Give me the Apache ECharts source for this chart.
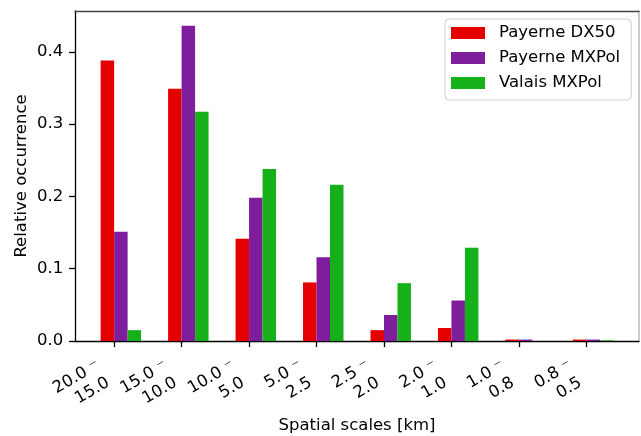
<!DOCTYPE html>
<html>
<head>
<meta charset="utf-8">
<script src="https://cdn.jsdelivr.net/npm/echarts@6/dist/echarts.min.js"></script>
<style>
  html, body { margin: 0; padding: 0; background: #fff; }
  #chart { width: 641px; height: 436px; }
</style>
</head>
<body>
<div id="chart"></div>
<script>
// Spatial scale bins (km) and relative occurrence per radar dataset
const scaleLabels = ['20.0 \u207B\n15.0', '15.0 \u207B\n10.0', '10.0 \u207B\n5.0', '5.0 \u207B\n2.5',
                     '2.5 \u207B\n2.0', '2.0 \u207B\n1.0', '1.0 \u207B\n0.8', '0.8 \u207B\n0.5'];
const seriesNames = ['Payerne DX50', 'Payerne MXPol', 'Valais MXPol'];
const payerneDX50  = [0.388, 0.349, 0.1415, 0.081, 0.015, 0.018, 0.002, 0.002];
const payerneMXPol = [0.151, 0.436, 0.198, 0.116, 0.036, 0.056, 0.002, 0.002];
const valaisMXPol  = [0.015, 0.317, 0.238, 0.216, 0.080, 0.129, 0.000, 0.001];
const yTicks = [0, 0.1, 0.2, 0.3, 0.4];

const colors = ['#e50000', '#7e1e9c', '#15b01a'];
const FONT = 'DejaVu Sans';
const FS = 16.5;
const BAR = 0.2;                 // bar width in category units
const LABEL_SHIFT = 0.16;        // rotated labels hang to the left of their tick

const tickPositions = scaleLabels.map((_, i) => i);
const labelPositions = scaleLabels.map((_, i) => i - LABEL_SHIFT);

function barData(values, offset) {
  return values.map((v, i) => [i + offset, v]);
}

const chart = echarts.init(document.getElementById('chart'), null, { renderer: 'canvas' });

const plotW = 641 - 75 - 2;
const xMin = -0.58, xMax = 7.78;
const barPx = plotW / (xMax - xMin) * BAR;

chart.setOption({
  animation: false,
  backgroundColor: '#fff',
  textStyle: { fontFamily: FONT },
  grid: { left: 75, right: 2, top: 11, bottom: 95, containLabel: false, outerBoundsMode: 'none' },
  legend: {
    orient: 'vertical',
    left: 445, top: 19,
    data: seriesNames,
    icon: 'rect',
    itemWidth: 34, itemHeight: 12,
    itemGap: 8,
    padding: [5.5, 11, 8.5, 6],
    borderColor: '#cccccc', borderWidth: 1, borderRadius: 4,
    backgroundColor: '#fff',
    textStyle: { fontFamily: FONT, fontSize: FS, color: '#000', lineHeight: 17, padding: [0, 0, 0, 9] }
  },
  xAxis: [{
    type: 'value',
    min: xMin, max: xMax,
    name: 'Spatial scales [km]',
    nameLocation: 'middle',
    nameGap: 76,
    nameMoveOverlap: false,
    nameTextStyle: { fontFamily: FONT, fontSize: FS, color: '#000' },
    splitLine: { show: false },
    axisLine: { show: true, onZero: false, lineStyle: { color: '#000', width: 1.3 } },
    axisTick: { show: true, inside: false, length: 6, customValues: tickPositions,
                lineStyle: { color: '#000', width: 1.3 } },
    axisLabel: {
      customValues: labelPositions,
      rotate: 30,
      margin: 32,
      fontFamily: FONT, fontSize: FS, color: '#000', lineHeight: 19.8,
      formatter: v => scaleLabels[Math.round(v + LABEL_SHIFT)] || ''
    }
  }, {
    type: 'value', position: 'top', min: xMin, max: xMax,
    axisLine: { show: true, onZero: false, lineStyle: { color: '#444', width: 1.3 } },
    axisTick: { show: false }, axisLabel: { show: false }, splitLine: { show: false }
  }],
  yAxis: [{
    type: 'value',
    min: 0, max: 0.4564,
    name: 'Relative occurrence',
    nameLocation: 'middle',
    nameGap: 45,
    nameMoveOverlap: false,
    nameTextStyle: { fontFamily: FONT, fontSize: FS, color: '#000' },
    splitLine: { show: false },
    axisLine: { show: true, onZero: false, lineStyle: { color: '#000', width: 1.3 } },
    axisTick: { show: true, inside: false, length: 6, customValues: yTicks,
                lineStyle: { color: '#000', width: 1.3 } },
    axisLabel: {
      customValues: yTicks,
      margin: 11.7,
      fontFamily: FONT, fontSize: FS, color: '#000',
      formatter: v => v.toFixed(1)
    }
  }, {
    type: 'value', position: 'right', min: 0, max: 0.4564,
    axisLine: { show: true, onZero: false, lineStyle: { color: '#bbb', width: 1.5 } },
    axisTick: { show: false }, axisLabel: { show: false }, splitLine: { show: false }
  }],
  series: [
    { name: seriesNames[0], type: 'bar', data: barData(payerneDX50, -0.1),
      barWidth: barPx, barGap: '-100%', itemStyle: { color: colors[0] } },
    { name: seriesNames[1], type: 'bar', data: barData(payerneMXPol, 0.1),
      barWidth: barPx, barGap: '-100%', itemStyle: { color: colors[1] } },
    { name: seriesNames[2], type: 'bar', data: barData(valaisMXPol, 0.3),
      barWidth: barPx, barGap: '-100%', itemStyle: { color: colors[2] } }
  ]
});
</script>
</body>
</html>
